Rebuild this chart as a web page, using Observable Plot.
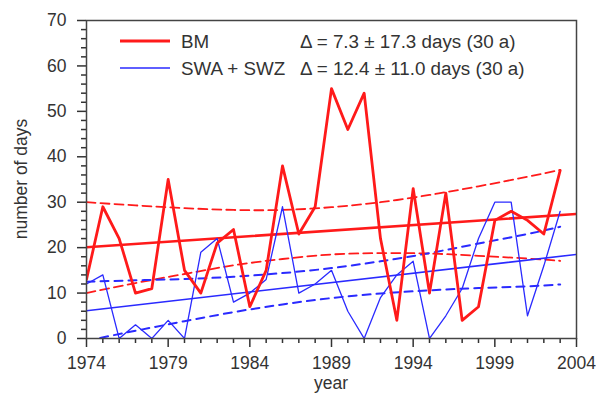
<!DOCTYPE html>
<html>
<head>
<meta charset="utf-8">
<script src="https://cdn.jsdelivr.net/npm/d3@7"></script>
<script src="https://cdn.jsdelivr.net/npm/@observablehq/plot@0.6"></script>
<style>
  html, body { margin: 0; padding: 0; background: #fff; }
  #chart { width: 596px; height: 398px; }
</style>
</head>
<body>
<div id="chart"></div>
<script>
// ---- data ----
const years = [1974,1975,1976,1977,1978,1979,1980,1981,1982,1983,1984,1985,1986,1987,1988,1989,1990,1991,1992,1993,1994,1995,1996,1997,1998,1999,2000,2001,2002,2003];
const bm  = [13,29,22,10,11,35,15,10,21,24,7,15,38,23,29,55,46,54,22,4,33,10,32,4,7,26,28,26,23,37];
const swa = [12,14,0,3,0,4,0,19,22,8,10,13,29,10,12,15,6,0,9,14,17,0,5,11,22,30,30,5,16,28];

const trendYears = [1974, 2004];
const bmTrend  = [20.1, 27.4];
const swaTrend = [6.1, 18.5];

const bandYears = [1974,1977,1980,1983,1986,1989,1992,1995,1998,2001,2003];
const bmUpper  = [30.0,29.3,28.7,28.3,28.3,28.9,30.0,31.6,33.5,35.6,37.1];
const bmLower  = [10.0,12.2,14.2,16.1,17.5,18.5,18.8,18.7,18.2,17.6,17.1];
const swaUpper = [12.5,12.8,13.1,13.6,14.4,15.5,17.0,18.8,20.9,23.0,24.6];
const swaLower = [-0.5,1.7,3.8,5.8,7.5,8.9,9.9,10.6,11.1,11.5,11.9];

const majorX = [1974,1979,1984,1989,1994,1999,2004];
const minorX = [1975,1976,1977,1978,1980,1981,1982,1983,1985,1986,1987,1988,1990,1991,1992,1993,1995,1996,1997,1998,2000,2001,2002,2003];
const majorY = [0,10,20,30,40,50,60,70];
const minorY = [2,4,6,8,12,14,16,18,22,24,26,28,32,34,36,38,42,44,46,48,52,54,56,58,62,64,66,68];

const seriesNames = ["BM", "SWA + SWZ"];
const seriesColors = ["#ff1a1a", "#2a2aff"];
const deltaTexts = ["\u0394 = 7.3 \u00b1 17.3 days (30 a)", "\u0394 = 12.4 \u00b1 11.0 days (30 a)"];
const xLabel = "year";
const yLabel = "number of days";

// ---- tables ----
const series = (ys, vs) => ys.map((y, i) => ({x: y, v: vs[i]}));
const RED = seriesColors[0], BLUE = seriesColors[1];

const chart = Plot.plot({
  width: 596,
  height: 398,
  marginLeft: 86,
  marginRight: 20,
  marginTop: 20,
  marginBottom: 60,
  x: {domain: [1974, 2004]},
  y: {domain: [0, 70]},
  style: {fontFamily: "'Liberation Sans', Arial, sans-serif", fontSize: "17px", color: "#333", background: "#fff"},
  marks: [
    Plot.axisY({ticks: minorY, tickSize: 5, tickFormat: () => "", label: null, strokeWidth: 1.5}),
    Plot.axisY({ticks: majorY, tickSize: 9, tickPadding: 11, label: null, strokeWidth: 1.5, fontSize: 17.5}),
    Plot.axisX({ticks: minorX, tickSize: 5, tickFormat: () => "", label: null, strokeWidth: 1.5}),
    Plot.axisX({ticks: majorX, tickSize: 9, tickPadding: 9, tickFormat: "d", label: null, strokeWidth: 1.5, fontSize: 17.5}),
    // confidence bands (dashed)
    Plot.line(series(bandYears, bmUpper), {x: "x", y: "v", stroke: RED, strokeWidth: 1.8, strokeDasharray: "9,5", curve: "natural", clip: true}),
    Plot.line(series(bandYears, bmLower), {x: "x", y: "v", stroke: RED, strokeWidth: 1.8, strokeDasharray: "9,5", curve: "natural", clip: true}),
    Plot.line(series(bandYears, swaUpper), {x: "x", y: "v", stroke: BLUE, strokeWidth: 2, strokeDasharray: "8,6", curve: "natural", clip: true}),
    Plot.line(series(bandYears, swaLower), {x: "x", y: "v", stroke: BLUE, strokeWidth: 2, strokeDasharray: "8,6", curve: "natural", clip: true}),
    // trends
    Plot.line(series(trendYears, swaTrend), {x: "x", y: "v", stroke: BLUE, strokeWidth: 1.6, clip: true}),
    Plot.line(series(trendYears, bmTrend), {x: "x", y: "v", stroke: RED, strokeWidth: 2.6, clip: true}),
    // data series
    Plot.line(series(years, swa), {x: "x", y: "v", stroke: BLUE, strokeWidth: 1.3, clip: true}),
    Plot.line(series(years, bm), {x: "x", y: "v", stroke: RED, strokeWidth: 2.8, clip: true}),
    Plot.frame({stroke: "#444", strokeWidth: 1.5})
  ]
});

document.getElementById("chart").appendChild(chart);

// ---- legend and axis titles ----
const svg = d3.select(chart);
const font = "'Liberation Sans', Arial, sans-serif";
const legendRows = [{y: 41}, {y: 68}];
const g = svg.append("g").attr("text-anchor", "start").attr("font-family", font).attr("fill", "#333");
seriesNames.forEach((name, i) => {
  const yy = legendRows[i].y;
  g.append("line").attr("x1", 120).attr("x2", 170).attr("y1", yy).attr("y2", yy)
    .attr("stroke", seriesColors[i]).attr("stroke-width", i === 0 ? 2.8 : 1.6);
  g.append("text").attr("x", 181).attr("y", yy + 7).attr("font-size", 18.8)
    .attr("text-anchor", "start").text(name);
  g.append("text").attr("x", 300).attr("y", yy + 7).attr("font-size", 18.8)
    .attr("text-anchor", "start").text(deltaTexts[i]);
});
svg.append("text").attr("x", 331).attr("y", 389).attr("text-anchor", "middle")
  .attr("font-family", font).attr("font-size", 17.5).attr("fill", "#333").text(xLabel);
svg.append("text").attr("transform", "translate(27,179) rotate(-90)").attr("text-anchor", "middle")
  .attr("font-family", font).attr("font-size", 17.5).attr("fill", "#333").text(yLabel);
</script>
</body>
</html>
